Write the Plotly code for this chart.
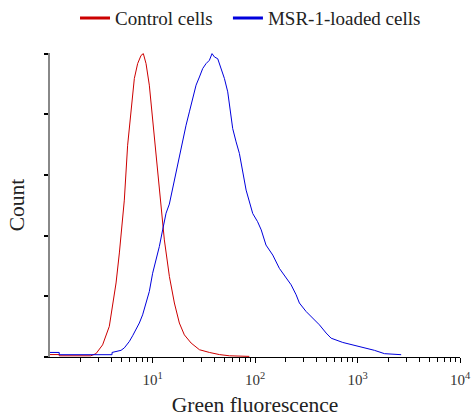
import plotly.graph_objects as go

# Control cells (red) - fluorescence bin centers and normalized counts
control_x = [1.0, 1.23, 1.23, 2.5, 2.81, 3.26, 3.79, 4.08, 4.41, 4.75, 5.11, 5.31, 5.72, 6.18,
             6.65, 7.16, 7.73, 8.14, 8.65, 9.31, 10.03, 10.83, 11.66, 12.12, 13.05, 14.62,
             16.35, 18.28, 20.45, 23.8, 28.7, 35.9, 44.9, 56.2, 88.0]
control_y = [0.008, 0.008, 0.004, 0.004, 0.011, 0.040, 0.101, 0.166, 0.244, 0.343, 0.452, 0.517,
             0.698, 0.808, 0.918, 0.967, 0.994, 1.0, 0.967, 0.896, 0.786, 0.676, 0.567, 0.517,
             0.386, 0.265, 0.178, 0.112, 0.073, 0.046, 0.024, 0.015, 0.008, 0.004, 0.002]

# MSR-1-loaded cells (blue)
msr_x = [1.0, 1.23, 1.23, 4.03, 4.03, 4.93, 5.31, 5.94, 6.40, 6.91, 7.44, 8.01, 8.65, 9.31,
         10.03, 10.83, 11.66, 12.56, 13.56, 14.60, 15.74, 16.99, 18.28, 19.69, 21.25, 22.9,
         24.7, 26.6, 28.7, 30.9, 33.3, 35.9, 38.1, 40.2, 43.3, 46.7, 50.3, 54.2, 57.1, 60.6,
         65.4, 70.4, 81.9, 95.0, 106, 115, 128, 149, 173, 201, 225, 252, 271, 315, 366, 425,
         494, 553, 718, 899, 1214, 1463, 1833, 2668]
msr_y = [0.015, 0.015, 0.0076, 0.0076, 0.015, 0.022, 0.030, 0.051, 0.070, 0.090, 0.112, 0.139,
         0.178, 0.216, 0.276, 0.320, 0.364, 0.419, 0.474, 0.504, 0.556, 0.611, 0.665, 0.721,
         0.764, 0.808, 0.852, 0.896, 0.923, 0.951, 0.967, 0.978, 1.0, 0.989, 0.983, 0.951,
         0.918, 0.874, 0.808, 0.753, 0.709, 0.671, 0.550, 0.473, 0.446, 0.419, 0.369, 0.336,
         0.292, 0.260, 0.238, 0.205, 0.178, 0.150, 0.128, 0.106, 0.079, 0.062, 0.048, 0.040,
         0.029, 0.022, 0.011, 0.0076]

series_names = ["Control cells", "MSR-1-loaded cells"]
series_colors = ["#cc0000", "#0000dd"]

x_tickvals = [10, 100, 1000, 10000]
x_ticktext = ["10<sup>1</sup>", "10<sup>2</sup>", "10<sup>3</sup>", "10<sup>4</sup>"]
y_tickvals = [0, 0.2, 0.4, 0.6, 0.8, 1.0]

FONT = "'Liberation Serif', 'Times New Roman', serif"

fig = go.Figure()
fig.add_trace(go.Scatter(x=control_x, y=control_y, mode="lines", showlegend=False,
                         line=dict(color=series_colors[0], width=1), hoverinfo="skip"))
fig.add_trace(go.Scatter(x=msr_x, y=msr_y, mode="lines", showlegend=False,
                         line=dict(color=series_colors[1], width=1), hoverinfo="skip"))
# legend entries with thicker line, one legend box each
for name, col, lg in zip(series_names, series_colors, ["legend", "legend2"]):
    fig.add_trace(go.Scatter(x=[None], y=[None], mode="lines", name=name, legend=lg,
                             line=dict(color=col, width=3)))

legend_common = dict(orientation="h", y=1.177, yanchor="top", xanchor="left",
                     font=dict(family=FONT, size=19, color="#222"), itemwidth=30,
                     bgcolor="rgba(0,0,0,0)")

fig.update_layout(
    width=471, height=417,
    margin=dict(l=50, r=11, t=53, b=60, autoexpand=False),
    plot_bgcolor="white", paper_bgcolor="white",
    font=dict(family=FONT, size=16, color="#222"),
    legend=dict(x=0.061, **legend_common),
    legend2=dict(x=0.434, **legend_common),
    xaxis=dict(
        type="log", range=[0, 4], automargin=False,
        showgrid=False, zeroline=False,
        showline=True, linecolor="black", linewidth=1,
        ticks="outside", ticklen=5, tickcolor="black", tickwidth=1,
        tickvals=x_tickvals, ticktext=x_ticktext, ticklabelstandoff=4,
        tickfont=dict(family=FONT, size=15, color="#333"),
        minor=dict(ticks="outside", ticklen=4, tickcolor="black", tickwidth=1,
                   tickvals=[d * m for d in [1, 10, 100, 1000] for m in range(2, 10)]),
        title=dict(text="Green fluorescence", font=dict(family=FONT, size=21.5, color="#222"),
                   standoff=18),
    ),
    yaxis=dict(
        range=[0, 1.002], automargin=False,
        showgrid=False, zeroline=False,
        showline=True, linecolor="#888", linewidth=1.5,
        ticks="outside", ticklen=4, tickcolor="black", tickwidth=1.5,
        tickvals=y_tickvals, showticklabels=False,
        title=dict(text="Count", font=dict(family=FONT, size=21.5, color="#222"), standoff=14),
    ),
)

fig.write_html("out.html", config={"displayModeBar": False},
               post_script="document.body.style.margin='0';document.body.style.padding='0';")
